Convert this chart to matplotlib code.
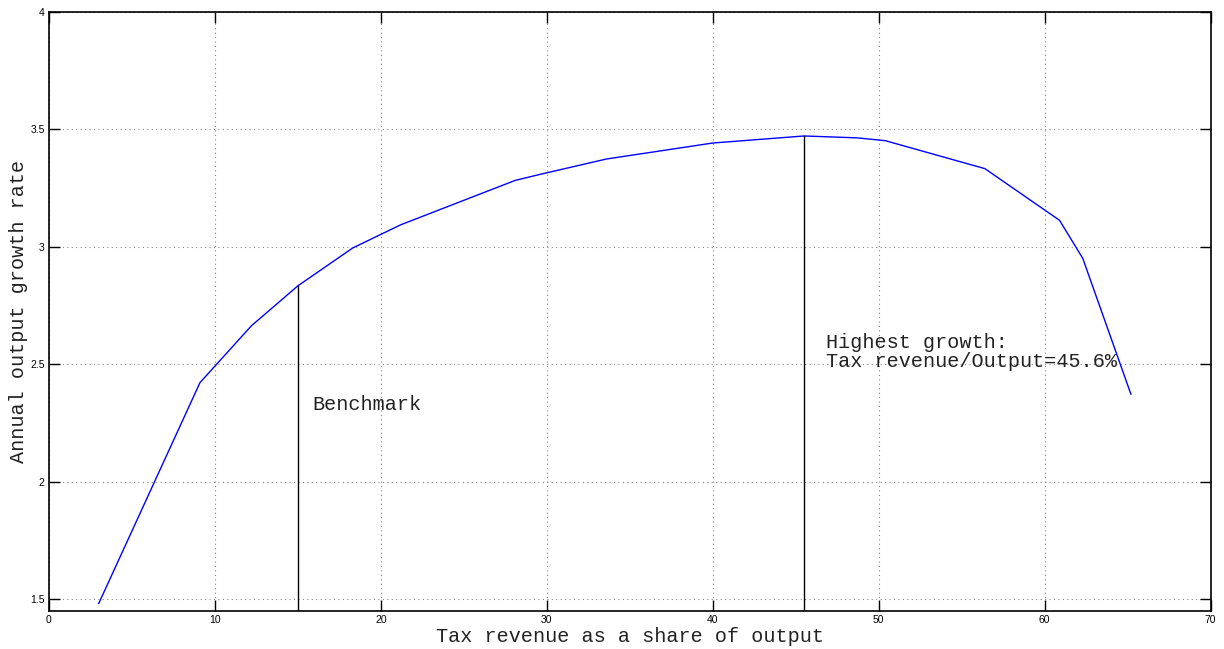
import matplotlib
matplotlib.use("Agg")
import matplotlib.pyplot as plt

# tax revenue share (%) and annual growth rate
tax_share = [3.0, 9.1, 12.2, 15.0, 18.3, 21.2, 28.1, 29.8, 33.6, 40.0, 45.5, 48.7, 50.4, 56.4, 60.9, 62.3, 65.2]
growth = [1.482, 2.422, 2.664, 2.834, 2.995, 3.094, 3.283, 3.312, 3.374, 3.442, 3.472, 3.464, 3.452, 3.333, 3.113, 2.951, 2.373]

benchmark_x = 15.0
benchmark_y = 2.834
peak_x = 45.5
peak_y = 3.472

xticks = [0, 10, 20, 30, 40, 50, 60, 70]
yticks = [1.5, 2, 2.5, 3, 3.5, 4]
ytick_labels = ["1.5", "2", "2.5", "3", "3.5", "4"]

mono = "Liberation Mono"

fig = plt.figure(figsize=(12.24, 6.49), dpi=100)
ax = fig.add_axes([0.040, 0.0586, 0.949, 0.923])

ax.plot(tax_share, growth, color="blue", linewidth=1.0)
ax.plot([benchmark_x, benchmark_x], [1.45, benchmark_y], color="black", linewidth=1.0)
ax.plot([peak_x, peak_x], [1.45, peak_y], color="black", linewidth=1.0)

ax.text(15.9, 2.331, "Benchmark", family=mono, fontsize=14.5, va="center", color="#222222")
ax.text(46.8, 2.553, "Highest growth:\nTax revenue/Output=45.6%", family=mono,
        fontsize=14.5, va="center", linespacing=1.0, color="#222222")

ax.set_xlim(0, 70)
ax.set_ylim(1.45, 4)
ax.set_xticks(xticks)
ax.set_yticks(yticks)
ax.set_yticklabels(ytick_labels)

ax.grid(True, linestyle=(0, (1, 3)), color="#888888", linewidth=0.8)
ax.tick_params(direction="in", length=8, width=1, top=True, right=True,
               labelsize=7.5, pad=3)
for lab in ax.get_xticklabels() + ax.get_yticklabels():
    lab.set_family("Liberation Sans")
for s in ax.spines.values():
    s.set_linewidth(1.2)

ax.set_xlabel("Tax revenue as a share of output", family=mono, fontsize=14.5, labelpad=1, color="#222222")
ax.set_ylabel("Annual output growth rate", family=mono, fontsize=14.5, labelpad=2, color="#222222")

fig.savefig("out.png", dpi=100)
